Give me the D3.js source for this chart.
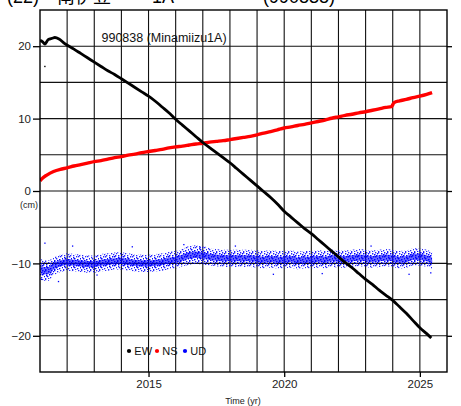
<!DOCTYPE html>
<html><head><meta charset="utf-8">
<script src="https://cdn.jsdelivr.net/npm/d3@7"></script>
<style>
html,body{margin:0;padding:0;background:#fff;}
svg{display:block;font-family:"Liberation Sans",Arial,Helvetica,sans-serif;}
</style></head>
<body>
<svg id="chart" width="461" height="406"></svg>
<script>
// ---- data ----
const titleParts = ["(22)", "南伊豆", "1A", "(990838)"];
const stationLabel = "990838 (Minamiizu1A)";
const xTicks = [2015, 2020, 2025];
const yTicks = [-20, -10, 0, 10, 20];
const legendNames = ["EW", "NS", "UD"];
const legendColors = ["#000000", "#ff0000", "#0000ff"];

const ewYears = [2011.0,2011.1,2011.18,2011.3,2011.45,2011.55,2011.7,2011.9,2012.25,2012.5,2012.75,2013.0,2013.25,2013.5,2013.75,2014.0,2014.25,2014.5,2014.75,2015.0,2015.25,2015.5,2015.75,2016.0,2016.25,2016.5,2016.75,2017.0,2017.25,2017.5,2017.75,2018.0,2018.25,2018.5,2018.75,2019.0,2019.25,2019.5,2019.75,2020.0,2020.25,2020.5,2020.75,2021.0,2021.25,2021.5,2021.75,2022.0,2022.25,2022.5,2022.75,2023.0,2023.25,2023.5,2023.75,2024.0,2024.25,2024.5,2024.75,2025.0,2025.25,2025.42];
const ewValues = [20.8,20.6,20.3,20.9,21.1,21.2,21.0,20.4,19.6,19.0,18.4,17.8,17.2,16.6,16.1,15.5,14.9,14.3,13.7,13.1,12.4,11.6,10.8,9.9,9.1,8.3,7.5,6.7,6.0,5.3,4.6,3.9,3.1,2.3,1.5,0.7,-0.1,-0.9,-1.8,-2.8,-3.6,-4.4,-5.2,-5.9,-6.7,-7.5,-8.3,-9.1,-9.9,-10.6,-11.4,-12.2,-12.9,-13.7,-14.4,-15.1,-16.0,-16.9,-17.9,-18.9,-19.7,-20.3];

const nsYears = [2011.0,2011.1,2011.25,2011.5,2011.75,2012.0,2012.25,2012.5,2012.75,2013.0,2013.25,2013.5,2013.75,2014.0,2014.25,2014.5,2014.75,2015.0,2015.25,2015.5,2015.75,2016.0,2016.25,2016.5,2016.75,2017.0,2017.25,2017.5,2017.75,2018.0,2018.25,2018.5,2018.75,2019.0,2019.25,2019.5,2019.75,2020.0,2020.25,2020.5,2020.75,2021.0,2021.25,2021.5,2021.75,2022.0,2022.25,2022.5,2022.75,2023.0,2023.25,2023.5,2023.75,2023.95,2024.05,2024.25,2024.5,2024.75,2025.0,2025.25,2025.45];
const nsValues = [1.4,1.8,2.2,2.7,3.0,3.2,3.45,3.65,3.85,4.05,4.2,4.4,4.6,4.75,4.95,5.1,5.3,5.45,5.6,5.75,5.95,6.1,6.2,6.35,6.5,6.6,6.75,6.85,6.95,7.1,7.25,7.4,7.55,7.75,8.0,8.2,8.45,8.7,8.85,9.05,9.2,9.4,9.6,9.8,10.05,10.25,10.45,10.6,10.8,10.95,11.15,11.35,11.55,11.65,12.2,12.45,12.65,12.9,13.1,13.35,13.6];

const udYears = [2011.0,2011.15,2011.3,2011.5,2011.75,2012.0,2012.25,2012.5,2012.75,2013.0,2013.25,2013.5,2013.75,2014.0,2014.25,2014.5,2014.75,2015.0,2015.25,2015.5,2015.75,2016.0,2016.25,2016.5,2016.75,2017.0,2017.25,2017.5,2017.75,2018.0,2018.25,2018.5,2018.75,2019.0,2019.25,2019.5,2019.75,2020.0,2020.25,2020.5,2020.75,2021.0,2021.25,2021.5,2021.75,2022.0,2022.25,2022.5,2022.75,2023.0,2023.25,2023.5,2023.75,2024.0,2024.25,2024.5,2024.75,2025.0,2025.25,2025.45];
const udValues = [-10.7,-11.0,-11.0,-10.4,-10.0,-9.8,-9.9,-10.0,-10.1,-10.1,-9.9,-9.8,-9.7,-9.65,-9.8,-9.9,-10.0,-10.0,-9.9,-9.8,-9.6,-9.5,-9.2,-8.9,-8.8,-8.9,-9.1,-9.2,-9.3,-9.3,-9.3,-9.3,-9.3,-9.4,-9.5,-9.4,-9.5,-9.5,-9.4,-9.6,-9.5,-9.5,-9.4,-9.5,-9.3,-9.4,-9.4,-9.3,-9.2,-9.3,-9.4,-9.3,-9.2,-9.3,-9.5,-9.4,-9.1,-9.1,-9.3,-9.6];
const udSpread = [1.4,1.4,1.4,1.3,1.2,1.2,1.2,1.2,1.2,1.2,1.2,1.2,1.2,1.2,1.2,1.2,1.2,1.2,1.2,1.2,1.2,1.2,1.2,1.3,1.3,1.3,1.2,1.2,1.2,1.2,1.2,1.2,1.2,1.2,1.2,1.2,1.2,1.2,1.2,1.2,1.2,1.2,1.2,1.2,1.2,1.2,1.2,1.2,1.2,1.2,1.2,1.2,1.2,1.2,1.2,1.2,1.2,1.2,1.2,1.2];

const ewOutYears = [2011.18];
const ewOutValues = [17.2];
const udOutYears = [2011.18,2011.68,2011.05,2012.2,2013.1,2014.4,2016.3,2016.9,2018.2,2019.6,2021.4,2023.2,2024.6,2025.4];
const udOutValues = [-7.2,-12.5,-12.2,-7.6,-11.6,-7.7,-7.4,-7.8,-7.6,-11.5,-11.4,-7.6,-11.5,-11.3];

// ---- layout ----
const svg = d3.select("#chart");
const x = d3.scaleLinear().domain([2011, 2026]).range([40, 447]);
const y = d3.scaleLinear().domain([-25, 25]).range([372, 10]);

// defs: speckle pattern for UD cloud
const defs = svg.append("defs");
const pat = defs.append("pattern").attr("id","speck").attr("patternUnits","userSpaceOnUse")
  .attr("width",9).attr("height",9);
[[0,0],[3,1],[6,0],[1,3],[4,4],[7,3],[2,6],[5,7],[8,6],[0,8],[3,8],[6,4],[8,1],[1,5],[5,2]].forEach(p=>{
  pat.append("rect").attr("x",p[0]).attr("y",p[1]).attr("width",1.3).attr("height",1.3).attr("fill","#0000ff");
});
defs.append("clipPath").attr("id","clip").append("rect")
  .attr("x",40).attr("y",10).attr("width",407).attr("height",362);

// title (cut off at top, as in the reference)
const titleX = [7, 57, 152, 263];
svg.selectAll("text.title").data(titleParts).join("text")
  .attr("class","title")
  .attr("x",(d,i)=>titleX[i]).attr("y",3)
  .attr("font-size",18).attr("fill","#000")
  .attr("font-family",(d,i)=> i===1 ? "'Noto Sans CJK JP',sans-serif" : null)
  .text(d=>d);

// grid
const gridYears = d3.range(2012, 2026);
const gridVals = d3.range(-20, 25, 5);
const g = svg.append("g");
g.selectAll("line.vg").data(gridYears).join("line")
  .attr("x1",d=>x(d)).attr("x2",d=>x(d)).attr("y1",10).attr("y2",372)
  .attr("stroke","#111").attr("stroke-width",1.1);
g.selectAll("line.hg").data(gridVals).join("line")
  .attr("y1",d=>y(d)).attr("y2",d=>y(d)).attr("x1",40).attr("x2",447)
  .attr("stroke","#111").attr("stroke-width",1.1);

// data
const plot = svg.append("g").attr("clip-path","url(#clip)");
const udData = udYears.map((t,i)=>({t, v:udValues[i], s:udSpread[i]}));
plot.append("path").datum(udData)
  .attr("d", d3.area().x(d=>x(d.t)).y0(d=>y(d.v-d.s)).y1(d=>y(d.v+d.s)).curve(d3.curveMonotoneX))
  .attr("fill","url(#speck)").attr("opacity",0.85);
plot.append("path").datum(udData)
  .attr("d", d3.area().x(d=>x(d.t)).y0(d=>y(d.v-d.s*0.6)).y1(d=>y(d.v+d.s*0.6)).curve(d3.curveMonotoneX))
  .attr("fill","url(#speck)");
plot.append("path").datum(udData)
  .attr("d", d3.area().x(d=>x(d.t)).y0(d=>y(d.v-d.s*0.35)).y1(d=>y(d.v+d.s*0.35)).curve(d3.curveMonotoneX))
  .attr("fill","#0000ff").attr("opacity",0.6);
plot.selectAll("rect.udo").data(udOutYears).join("rect")
  .attr("x",(d,i)=>x(d)-0.6).attr("y",(d,i)=>y(udOutValues[i])-0.6)
  .attr("width",1.3).attr("height",1.3).attr("fill","#0000ff");

const line = d3.line().x(d=>x(d[0])).y(d=>y(d[1])).curve(d3.curveMonotoneX);
plot.append("path").datum(nsYears.map((t,i)=>[t,nsValues[i]]))
  .attr("d",line).attr("fill","none").attr("stroke","#ff0000").attr("stroke-width",3.4);
plot.append("path").datum(ewYears.map((t,i)=>[t,ewValues[i]]))
  .attr("d",line).attr("fill","none").attr("stroke","#000").attr("stroke-width",2.8);
plot.selectAll("rect.ewo").data(ewOutYears).join("rect")
  .attr("x",d=>x(d)-0.7).attr("y",(d,i)=>y(ewOutValues[i])-0.7)
  .attr("width",1.4).attr("height",1.4).attr("fill","#000");

// frame
svg.append("rect").attr("x",40).attr("y",10).attr("width",407).attr("height",362)
  .attr("fill","none").attr("stroke","#000").attr("stroke-width",1.4);

// axes
const yl = svg.append("g").attr("transform","translate(40,0)")
  .call(d3.axisLeft(y).tickValues(yTicks).tickSize(7).tickPadding(2)
    .tickFormat(d=> d<0 ? "\u2212"+Math.abs(d) : String(d)));
const yr = svg.append("g").attr("transform","translate(447,0)")
  .call(d3.axisRight(y).tickValues(yTicks).tickSize(5).tickFormat(""));
const xb = svg.append("g").attr("transform","translate(0,372)")
  .call(d3.axisBottom(x).tickValues(xTicks).tickSize(5).tickPadding(3).tickFormat(d3.format("d")));
[yl,yr,xb].forEach(a=>{
  a.select(".domain").remove();
  a.selectAll(".tick line").attr("stroke","#000").attr("stroke-width",1.3);
  a.selectAll(".tick text").attr("font-size",11.5).attr("fill","#222")
    .attr("font-family","'Liberation Sans',Arial,sans-serif");
});

// axis titles
svg.append("text").attr("x",29).attr("y",208).attr("text-anchor","middle")
  .attr("font-size",9).attr("fill","#222").text("(cm)");
svg.append("text").attr("x",243).attr("y",404).attr("text-anchor","middle")
  .attr("font-size",9).attr("fill","#222").text("Time (yr)");

// station label
svg.append("text").attr("x",101.5).attr("y",41.5).attr("font-size",12.5).attr("fill","#111").text(stationLabel);

// legend
const legX = [129, 157, 185];
const leg = svg.append("g");
leg.selectAll("circle").data(legendNames).join("circle")
  .attr("cx",(d,i)=>legX[i]).attr("cy",351).attr("r",2.1).attr("fill",(d,i)=>legendColors[i]);
leg.selectAll("text").data(legendNames).join("text")
  .attr("x",(d,i)=>legX[i]+5.3).attr("y",355).attr("font-size",11).attr("fill","#111").text(d=>d);
</script>
</body></html>
